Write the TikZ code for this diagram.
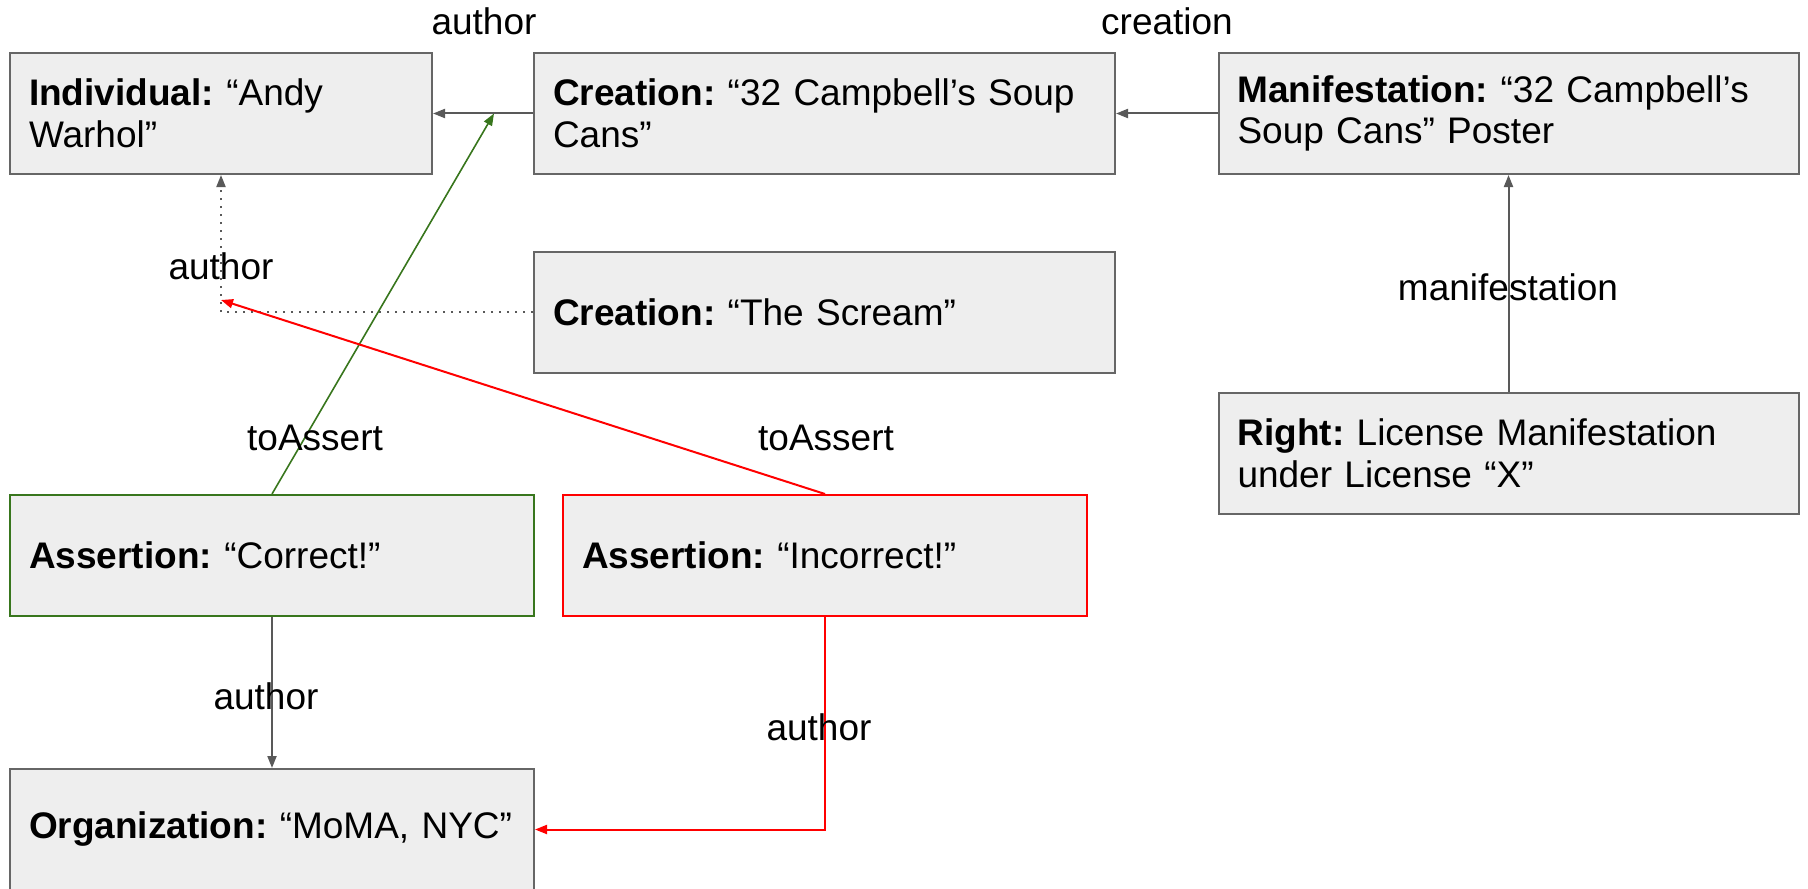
\documentclass[tikz,border=0pt]{standalone}
\usepackage{fontspec}
\setmainfont{Liberation Sans}
\usepackage{xcolor}
\usepackage{tikz}
\usetikzlibrary{arrows.meta}
\frenchspacing

\definecolor{boxfill}{HTML}{EEEEEE}
\definecolor{boxline}{HTML}{666666}
\definecolor{linkgray}{HTML}{595959}
\definecolor{okgreen}{HTML}{38761D}
\definecolor{badred}{HTML}{FF0000}

\begin{document}
\begin{tikzpicture}[x=0.5pt, y=-0.5pt,
    every node/.style={font=\fontsize{18.5}{20.8}\selectfont},
    entity/.style={draw=boxline, fill=boxfill, line width=1pt,
      minimum height=60.5pt, inner xsep=9.5pt, inner ysep=4pt,
      align=left, text width=#1},
    tip/.style={-{Triangle[length=6pt, width=4.5pt]}},
    link/.style={draw=linkgray, line width=1pt, tip},
    hint/.style={draw=linkgray, line width=1pt, tip,
      dash pattern=on 1pt off 3pt},
    goodlink/.style={draw=okgreen, line width=0.8pt, tip},
    badlink/.style={draw=badred, line width=1pt, tip}]
  \useasboundingbox (0,0) rectangle (1808,888);
  \clip (0,0) rectangle (1808,888);

  % ── Works and people ──
  \node[entity=192pt]   (indiv)  at (221,113.5)  {\textbf{Individual:} “Andy\\Warhol”};
  \node[entity=271.5pt] (soup)   at (824.5,113.5) {\textbf{Creation:} “32 Campbell’s Soup\\Cans”};
  \node[entity=271pt]   (manif)  at (1508.5,113.5) {\textbf{Manifestation:} “32 Campbell’s\\Soup Cans” Poster};
  \node[entity=271.5pt] (scream) at (824.5,312)  {\textbf{Creation:} “The Scream”};
  \node[entity=271pt]   (right)  at (1508.5,453) {\textbf{Right:} License Manifestation\\under License “X”};

  % ── Assertions ──
  \node[entity=243pt, draw=okgreen] (correct)   at (272,555.5) {\textbf{Assertion:} “Correct!”};
  \node[entity=243pt, draw=badred]  (incorrect) at (825,555.5) {\textbf{Assertion:} “Incorrect!”};
  \node[entity=243pt] (moma) at (272,829.5) {\textbf{Organization:} “MoMA,~NYC”};

  % free ends of the assertion arrows
  \coordinate (goodtip) at (494,113.5);
  \coordinate (badtip)  at (221,300);

  % ── Connectors ──
  \draw[link] (soup.west) -- (indiv.east);
  \draw[link] (manif.west) -- (soup.east);
  \draw[link] (right.north) -- (manif.south);
  \draw[hint] (scream.west) -| (indiv.south);
  \draw[link] (correct.south) -- (moma.north);
  \draw[goodlink] (correct.north) -- (goodtip);
  \draw[badlink] (incorrect.north) -- (badtip);
  \draw[badlink] (incorrect.south) |- (moma.east);

  % ── Labels ──
  \node (lauthor)   at (484,21)   {author};
  \node (lcreation) at (1167,21)  {creation};
  \node (lhint)     at (221,266)  {author};
  \node (lmanif)    at (1508,287) {manifestation};
  \node (lgood)     at (315,438)  {toAssert};
  \node (lbad)      at (826,438)  {toAssert};
  \node (lorg)      at (266,696)  {author};
  \node (lbadorg)   at (819,727)  {author};
\end{tikzpicture}
\end{document}
